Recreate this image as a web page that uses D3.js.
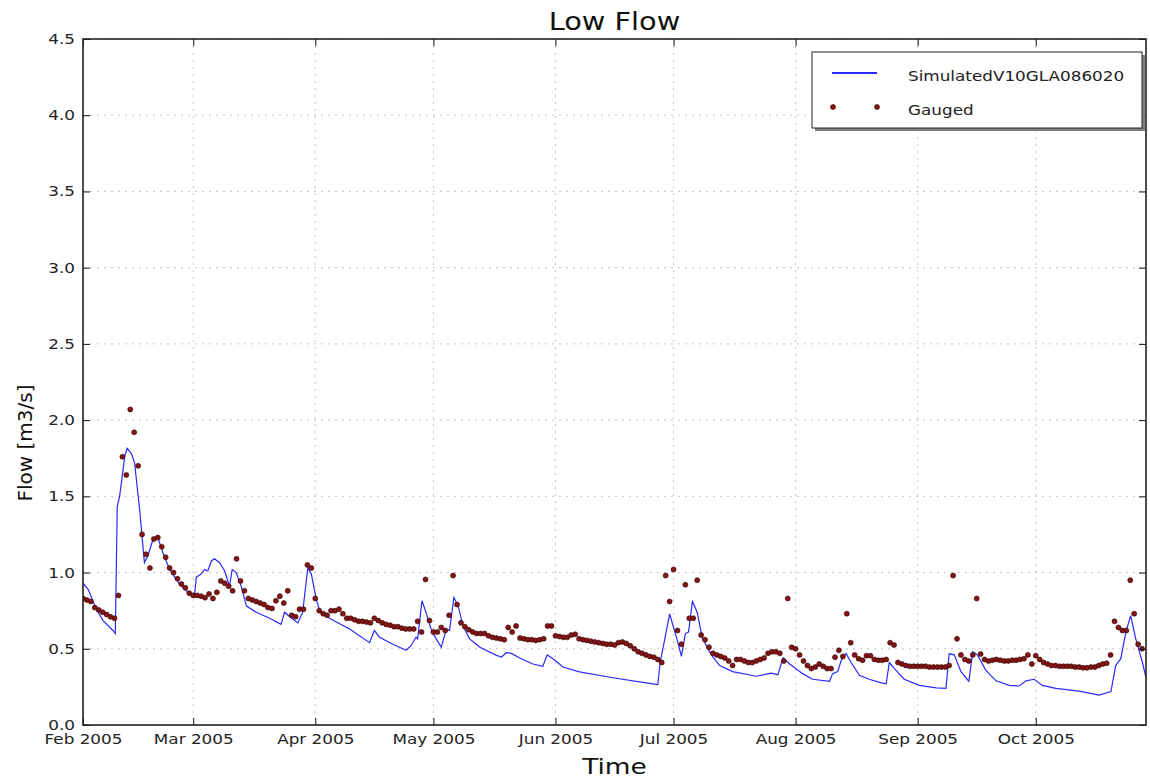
<!DOCTYPE html>
<html>
<head>
<meta charset="utf-8">
<script src="https://cdn.jsdelivr.net/npm/d3@7"></script>
<style>
  html, body { margin: 0; padding: 0; background: #fff; }
  svg { display: block; font-family: "DejaVu Sans", sans-serif; }
</style>
</head>
<body>
<svg id="chart" width="1150" height="780"></svg>
<script>
// ---------------- DATA ----------------
const startDate = "2005-02-01";
const endDate = "2005-10-29";
const monthTicks = ["2005-02-01","2005-03-01","2005-04-01","2005-05-01","2005-06-01","2005-07-01","2005-08-01","2005-09-01","2005-10-01"];
const yTicks = [0.0, 0.5, 1.0, 1.5, 2.0, 2.5, 3.0, 3.5, 4.0, 4.5];

// Simulated series: days since Feb 1 2005 and flow (m3/s)
const simDays = [0,1.3,3.4,5.1,7.6,8.2,8.7,9.3,10.6,11.2,12.3,13.1,14.4,15.6,16.5,17.8,19.0,20.3,22.0,24.5,27.1,28.3,
  28.8,30.0,30.9,31.7,32.6,33.4,34.7,36.0,37.2,37.9,38.9,40.2,41.5,44.0,47.4,50.3,51.2,52.5,54.6,55.8,57.1,58.0,59.2,
  60.1,62.6,67.7,72.8,74.0,75.3,78.7,82.1,83.3,84.6,85.0,86.1,87.1,88.4,89.7,91.0,92.3,93.1,94.2,95.3,96.5,98.2,100.8,
  105.0,106.3,107.5,108.8,111.3,114.3,116.8,117.9,119.4,121.9,126.1,134.6,142.2,146.0,146.6,149.0,150.9,152.0,153.0,
  153.8,154.8,156.0,157.3,159.6,161.7,165.0,171.0,174.8,176.5,177.8,179.5,182.8,185.3,189.6,190.4,191.7,192.6,193.8,
  195.1,197.2,199.7,202.3,204.0,204.8,206.1,208.6,212.4,216.7,219.2,220.0,221.3,223.0,225.0,226.0,227.2,229.3,231.9,
  235.3,237.8,239.5,241.6,243.7,247.1,253.0,258.1,261.1,262.3,263.6,264.9,266.1,267.4,269.1,270.0];
const simFlow = [0.93,0.89,0.76,0.685,0.62,0.60,1.435,1.50,1.76,1.815,1.78,1.72,1.41,1.065,1.11,1.22,1.23,1.13,1.02,0.924,0.86,0.85,
  0.97,0.99,1.02,1.01,1.076,1.09,1.065,1.01,0.91,1.02,1.00,0.91,0.78,0.74,0.70,0.66,0.74,0.71,0.67,0.74,1.03,0.99,0.83,
  0.75,0.70,0.63,0.54,0.62,0.576,0.53,0.49,0.52,0.576,0.565,0.815,0.74,0.63,0.565,0.51,0.63,0.62,0.837,0.78,0.65,0.565,0.51,
  0.457,0.446,0.474,0.47,0.435,0.40,0.385,0.46,0.435,0.38,0.348,0.31,0.28,0.265,0.41,0.728,0.56,0.45,0.60,
  0.61,0.81,0.74,0.57,0.46,0.39,0.35,0.32,0.34,0.33,0.44,0.40,0.337,0.30,0.287,0.337,0.35,0.424,0.47,
  0.41,0.326,0.30,0.28,0.27,0.41,0.37,0.30,0.26,0.243,0.24,0.467,0.46,0.35,0.287,0.48,0.46,0.36,0.29,
  0.26,0.256,0.29,0.30,0.26,0.24,0.222,0.196,0.22,0.39,0.435,0.61,0.717,0.565,0.41,0.31];

// Gauged series: one value per day starting Feb 1 2005
const gaugedFlow = [
  0.83,0.82,0.81,0.77,0.755,0.74,0.725,0.71,0.70,0.85,
  1.76,1.64,2.07,1.92,1.70,1.25,1.12,1.03,1.22,1.23,
  1.17,1.10,1.03,1.00,0.96,0.925,0.90,0.865,0.85,0.85,
  0.845,0.835,0.86,0.83,0.87,0.945,0.93,0.91,0.88,1.09,
  0.945,0.88,0.83,0.82,0.81,0.80,0.79,0.77,0.765,0.815,
  0.845,0.80,0.88,0.72,0.71,0.76,0.76,1.05,1.03,0.83,
  0.75,0.73,0.72,0.75,0.75,0.76,0.73,0.70,0.70,0.69,
  0.68,0.68,0.675,0.67,0.70,0.685,0.67,0.66,0.655,0.645,
  0.645,0.635,0.63,0.63,0.63,0.68,0.61,0.955,0.685,0.61,
  0.61,0.64,0.62,0.72,0.98,0.79,0.67,0.645,0.625,0.61,
  0.60,0.60,0.60,0.585,0.575,0.57,0.565,0.56,0.64,0.61,
  0.65,0.57,0.565,0.56,0.56,0.555,0.56,0.565,0.65,0.65,
  0.585,0.58,0.575,0.575,0.59,0.595,0.565,0.56,0.555,0.55,
  0.545,0.54,0.535,0.53,0.53,0.525,0.54,0.545,0.535,0.52,
  0.50,0.48,0.47,0.46,0.45,0.445,0.43,0.41,0.98,0.81,
  1.02,0.62,0.53,0.92,0.70,0.70,0.95,0.59,0.56,0.51,
  0.47,0.46,0.45,0.44,0.42,0.39,0.43,0.43,0.42,0.41,
  0.41,0.42,0.43,0.44,0.47,0.48,0.48,0.47,0.42,0.83,
  0.51,0.50,0.46,0.42,0.39,0.37,0.38,0.40,0.385,0.37,
  0.37,0.445,0.49,0.45,0.73,0.54,0.46,0.435,0.425,0.455,
  0.455,0.43,0.425,0.425,0.43,0.54,0.525,0.41,0.40,0.39,
  0.385,0.385,0.385,0.385,0.385,0.38,0.38,0.38,0.38,0.38,
  0.39,0.98,0.565,0.46,0.43,0.42,0.46,0.83,0.465,0.43,
  0.42,0.425,0.43,0.425,0.42,0.42,0.425,0.425,0.43,0.435,
  0.46,0.40,0.455,0.43,0.41,0.40,0.39,0.39,0.385,0.385,
  0.385,0.385,0.38,0.38,0.375,0.375,0.38,0.38,0.39,0.40,
  0.405,0.46,0.68,0.64,0.62,0.62,0.95,0.73,0.53,0.50
];

const titleText = "Low Flow";
const xLabel = "Time";
const yLabel = "Flow [m3/s]";
const seriesNames = ["SimulatedV10GLA086020", "Gauged"];

// ---------------- CHART ----------------
const DAY = 86400000;
const t0 = Date.parse(startDate + "T00:00:00Z");
const toDate = d => new Date(t0 + d * DAY);

const M = {left: 83, right: 1146, top: 39, bottom: 725};
const STRETCH = 1.2;
const svg = d3.select("#chart");

const x = d3.scaleUtc()
  .domain([new Date(t0), new Date(Date.parse(endDate + "T00:00:00Z"))])
  .range([M.left, M.right]);
const y = d3.scaleLinear().domain([0, 4.5]).range([M.bottom, M.top]);

function stretchText(sel) {
  sel.each(function() {
    const len = this.getComputedTextLength();
    d3.select(this).attr("textLength", len * STRETCH).attr("lengthAdjust", "spacingAndGlyphs");
  });
}

svg.append("defs").append("clipPath").attr("id", "clip")
  .append("rect").attr("x", M.left).attr("y", M.top)
  .attr("width", M.right - M.left).attr("height", M.bottom - M.top);

// grid
const grid = svg.append("g").attr("class", "grid");
const monthDates = monthTicks.map(s => new Date(Date.parse(s + "T00:00:00Z")));
grid.selectAll("line.v").data(monthDates).join("line")
  .attr("x1", d => x(d)).attr("x2", d => x(d))
  .attr("y1", M.top).attr("y2", M.bottom)
  .attr("stroke", "#bdbdbd").attr("stroke-width", 0.9).attr("stroke-dasharray", "2,5");
grid.selectAll("line.h").data(yTicks).join("line")
  .attr("x1", M.left).attr("x2", M.right)
  .attr("y1", d => y(d)).attr("y2", d => y(d))
  .attr("stroke", "#bdbdbd").attr("stroke-width", 0.9).attr("stroke-dasharray", "2,5");

// simulated line
const simPts = simDays.map((d, i) => ({date: toDate(d), v: simFlow[i]}));
const line = d3.line().x(d => x(d.date)).y(d => y(d.v));
svg.append("path").datum(simPts)
  .attr("clip-path", "url(#clip)")
  .attr("d", line).attr("fill", "none")
  .attr("stroke", "#2a2aff").attr("stroke-width", 1.2);

// gauged dots
const gPts = gaugedFlow.map((v, i) => ({date: toDate(i), v}));
svg.append("g").attr("clip-path", "url(#clip)")
  .selectAll("circle").data(gPts).join("circle")
  .attr("cx", d => x(d.date)).attr("cy", d => y(d.v)).attr("r", 2.5)
  .attr("fill", "#861414").attr("stroke", "#2a0000").attr("stroke-width", 0.6);

// axes (ticks inward on all four sides)
const tickLen = 7;
const axB = d3.axisBottom(x).tickValues(monthDates).tickFormat(d3.utcFormat("%b %Y")).tickSizeInner(-tickLen).tickSizeOuter(0).tickPadding(10);
const axT = d3.axisTop(x).tickValues(monthDates).tickFormat("").tickSizeInner(-tickLen).tickSizeOuter(0);
const axL = d3.axisLeft(y).tickValues(yTicks).tickFormat(d3.format(".1f")).tickSizeInner(-tickLen).tickSizeOuter(0).tickPadding(10);
const axR = d3.axisRight(y).tickValues(yTicks).tickFormat("").tickSizeInner(-tickLen).tickSizeOuter(0);

const gB = svg.append("g").attr("transform", `translate(0,${M.bottom})`).call(axB);
const gT = svg.append("g").attr("transform", `translate(0,${M.top})`).call(axT);
const gL = svg.append("g").attr("transform", `translate(${M.left},0)`).call(axL);
const gR = svg.append("g").attr("transform", `translate(${M.right},0)`).call(axR);
[gB, gT, gL, gR].forEach(g => {
  g.select(".domain").remove();
  g.selectAll(".tick line").attr("stroke", "#111").attr("stroke-width", 1);
  g.selectAll(".tick text").attr("fill", "#222").style("font-size", "14px").style("font-family", "DejaVu Sans");
});
gB.selectAll(".tick text").attr("dy", "0.71em").attr("y", 9);
gL.selectAll(".tick text").attr("x", -8);
stretchText(gB.selectAll(".tick text"));
stretchText(gL.selectAll(".tick text"));

// frame
svg.append("rect").attr("x", M.left).attr("y", M.top)
  .attr("width", M.right - M.left).attr("height", M.bottom - M.top)
  .attr("fill", "none").attr("stroke", "#222").attr("stroke-width", 1.6);

// title & labels
svg.append("text").attr("x", (M.left + M.right) / 2).attr("y", 30)
  .attr("text-anchor", "middle").style("font-size", "24px").attr("fill", "#111")
  .text(titleText).call(stretchText);
svg.append("text").attr("x", (M.left + M.right) / 2).attr("y", 774)
  .attr("text-anchor", "middle").style("font-size", "22px").attr("fill", "#111")
  .text(xLabel).call(stretchText);
svg.append("text").attr("transform", "translate(32,443) rotate(-90)")
  .attr("text-anchor", "middle").style("font-size", "20px").attr("fill", "#111")
  .text(yLabel);

// legend
const lg = svg.append("g");
const LX = 812, LY = 52, LW = 330, LH = 76;
lg.append("rect").attr("x", LX + 3).attr("y", LY + 3).attr("width", LW).attr("height", LH).attr("fill", "#808080");
lg.append("rect").attr("x", LX).attr("y", LY).attr("width", LW).attr("height", LH)
  .attr("fill", "#fff").attr("stroke", "#222").attr("stroke-width", 1);
lg.append("line").attr("x1", 832).attr("x2", 877).attr("y1", 73).attr("y2", 73)
  .attr("stroke", "#2a2aff").attr("stroke-width", 2);
lg.append("text").attr("x", 908).attr("y", 81).style("font-size", "14px").attr("fill", "#222")
  .text(seriesNames[0]).call(stretchText);
lg.selectAll("circle").data([833, 877]).join("circle")
  .attr("cx", d => d).attr("cy", 107).attr("r", 2.5)
  .attr("fill", "#861414").attr("stroke", "#2a0000").attr("stroke-width", 0.6);
lg.append("text").attr("x", 908).attr("y", 115).style("font-size", "14px").attr("fill", "#222")
  .text(seriesNames[1]).call(stretchText);
</script>
</body>
</html>
